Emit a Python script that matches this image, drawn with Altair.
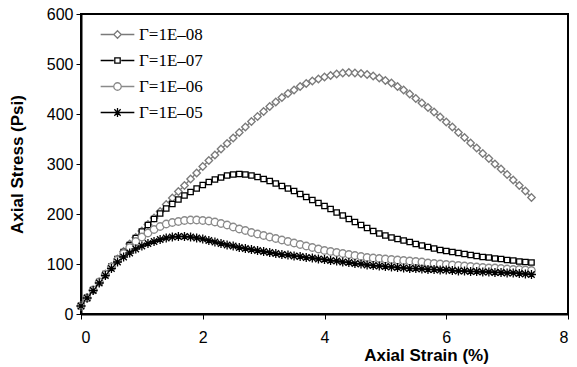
import altair as alt
import pandas as pd

strain = [0.0, 0.1, 0.2, 0.3, 0.4, 0.5, 0.6, 0.7, 0.8, 0.9,
          1.0, 1.1, 1.2, 1.3, 1.4, 1.5, 1.6, 1.7, 1.8, 1.9,
          2.0, 2.1, 2.2, 2.3, 2.4, 2.5, 2.6, 2.7, 2.8, 2.9,
          3.0, 3.1, 3.2, 3.3, 3.4, 3.5, 3.6, 3.7, 3.8, 3.9,
          4.0, 4.1, 4.2, 4.3, 4.4, 4.5, 4.6, 4.7, 4.8, 4.9,
          5.0, 5.1, 5.2, 5.3, 5.4, 5.5, 5.6, 5.7, 5.8, 5.9,
          6.0, 6.1, 6.2, 6.3, 6.4, 6.5, 6.6, 6.7, 6.8, 6.9,
          7.0, 7.1, 7.2, 7.3, 7.4]

stress_1e08 = [16, 32, 48, 64, 80, 95, 110, 125, 140, 153,
               166, 179, 192, 205, 219, 232, 245, 257, 270, 282,
               295, 307, 318, 330, 341, 352, 363, 374, 385, 395,
               405, 415, 424, 433, 441, 448, 455, 461, 466, 470,
               474, 477, 480, 482, 483, 482, 481, 479, 476, 472,
               467, 462, 455, 448, 440, 431, 422, 413, 404, 394,
               384, 374, 363, 353, 342, 332, 321, 311, 300, 290,
               279, 268, 257, 246, 233]

stress_1e07 = [16, 32, 48, 64, 80, 95, 110, 124, 138, 152,
               165, 178, 190, 201, 211, 220, 229, 237, 244, 251,
               258, 264, 269, 273, 277, 279, 280, 279, 277, 274,
               270, 266, 261, 256, 251, 246, 240, 234, 228, 222,
               216, 210, 203, 197, 190, 184, 178, 172, 166, 161,
               157, 153, 150, 147, 144, 140, 137, 134, 131, 128,
               126, 124, 122, 120, 118, 116, 114, 113, 111, 110,
               108, 107, 105, 104, 103]

stress_1e06 = [16, 32, 48, 64, 79, 94, 108, 121, 133, 145,
               154, 162, 169, 175, 180, 183, 185, 187, 188, 188,
               187, 186, 184, 181, 178, 174, 170, 167, 163, 160,
               157, 154, 151, 148, 145, 142, 139, 136, 133, 130,
               127, 125, 123, 121, 119, 117, 115, 113, 112, 111,
               110, 109, 108, 107, 106, 105, 104, 102, 101, 100,
               99, 98, 97, 96, 95, 94, 93, 92, 92, 91,
               90, 89, 89, 88, 87]

stress_1e05 = [16, 32, 47, 62, 77, 91, 104, 114, 122, 130,
               136, 141, 145, 149, 152, 154, 155, 155, 154, 152,
               150, 147, 144, 141, 138, 136, 133, 131, 129, 127,
               125, 123, 121, 119, 118, 116, 115, 113, 112, 110,
               109, 107, 106, 104, 103, 101, 100, 98, 97, 96,
               95, 94, 93, 92, 91, 91, 90, 89, 89, 88,
               88, 87, 86, 86, 85, 85, 84, 84, 83, 83,
               82, 82, 81, 80, 79]

labels = ["Γ=1E–08", "Γ=1E–07", "Γ=1E–06", "Γ=1E–05"]
colors = ["#7a7a7a", "#000000", "#8a8a8a", "#000000"]

diamond = "M0,-1L1,0L0,1L-1,0Z"
square = "M-0.72,-0.72L0.72,-0.72L0.72,0.72L-0.72,0.72Z"
circle = "M1,0A1,1,0,1,1,-1,0A1,1,0,1,1,1,0Z"
star = "M-1.2,0L1.2,0M0,-1.2L0,1.2M-0.85,-0.85L0.85,0.85M-0.85,0.85L0.85,-0.85"
shapes = [diamond, square, circle, star]

seg = "M-4.5,0L-1,0M1,0L4.5,0"
leg_shapes = [seg + diamond, seg + square, seg + circle, "M-4.5,0L4.5,0" + star]

rows = []
for lab, vals in zip(labels, [stress_1e08, stress_1e07, stress_1e06, stress_1e05]):
    for x, y in zip(strain, vals):
        rows.append({"strain": x, "stress": y, "series": lab})
df = pd.DataFrame(rows)

xenc = alt.X("strain:Q", scale=alt.Scale(domain=[0, 8], nice=False),
             axis=alt.Axis(values=[0, 2, 4, 6, 8], title="Axial Strain (%)",
                           labelPadding=10,
                           titleX=345, titleY=46, titleAlign="center",
                           titleBaseline="alphabetic", titleAnchor="start"))
yenc = alt.Y("stress:Q", scale=alt.Scale(domain=[0, 600], nice=False),
             axis=alt.Axis(values=[0, 100, 200, 300, 400, 500, 600], title="Axial Stress (Psi)",
                           labelPadding=3, titlePadding=20))

base = alt.Chart(df)
layers = []
for lab, col in zip(labels, colors):
    layers.append(
        base.mark_line(strokeWidth=1.2, color=col).encode(x=xenc, y=yenc, order="strain:Q")
        .transform_filter(alt.datum.series == lab)
    )
for lab, col, shp in zip(labels, colors, shapes):
    layers.append(
        base.mark_point(filled=True, fill="white", stroke=col, shape=shp, size=56,
                        strokeWidth=1.3, opacity=1)
        .encode(x=xenc, y=yenc)
        .transform_filter(alt.datum.series == lab)
    )

legend = alt.Legend(
    title=None,
    orient="none",
    legendX=28,
    legendY=12,
    padding=0,
    symbolSize=56,
    symbolStrokeWidth=1.3,
    symbolFillColor="white",
    symbolOpacity=1,
    labelFont="Liberation Serif",
    labelFontSize=17,
    labelColor="black",
    labelOffset=13,
    rowPadding=8,
)

legend_layer = base.mark_point(filled=True, fill="white", size=56, opacity=0).encode(
    x=xenc, y=yenc,
    stroke=alt.Stroke("series:N", scale=alt.Scale(domain=labels, range=colors), legend=legend, sort=labels),
    shape=alt.Shape("series:N", scale=alt.Scale(domain=labels, range=leg_shapes), legend=legend, sort=labels),
)
layers.append(legend_layer)

chart = alt.layer(*layers).properties(
    width=487, height=300,
    autosize=alt.AutoSizeParams(type="none"),
    padding={"left": 81, "top": 14, "right": 9, "bottom": 53},
    background="white",
).configure_view(
    stroke="black", strokeWidth=2,
).configure_axis(
    grid=False,
    domainColor="black", domainWidth=2,
    tickColor="black", tickSize=5, tickWidth=1,
    labelFont="Liberation Sans", labelFontSize=16, labelColor="black",
    titleFont="Liberation Sans", titleFontSize=17, titleFontWeight="bold", titleColor="black",
)

chart.save("out.html", embed_options={"renderer": "svg", "actions": False})
